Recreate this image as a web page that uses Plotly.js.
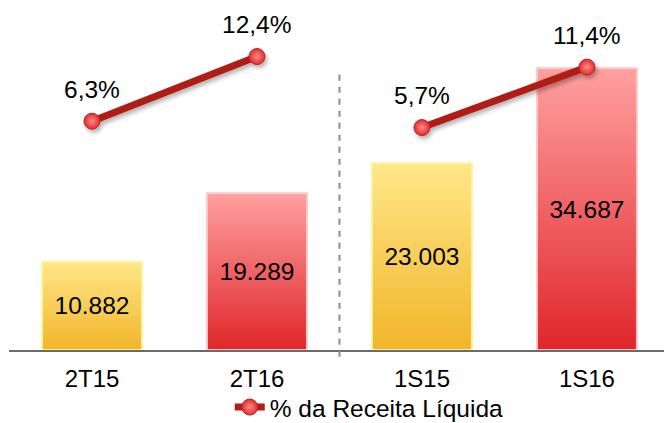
<!DOCTYPE html>
<html>
<head>
<meta charset="utf-8">
<script src="https://cdn.plot.ly/plotly-3.0.1.min.js"></script>
<style>
html,body{margin:0;padding:0;background:#fff;}
#chart{width:664px;height:423px;}
</style>
</head>
<body>
<div id="chart"></div>
<script>
// ---- data ----
var categories = ["2T15", "2T16", "1S15", "1S16"];
var values = [10882, 19289, 23003, 34687];
var pctReceita = [6.3, 12.4, 5.7, 11.4];
var barGroup = ["y", "r", "y", "r"];   // yellow = 2015, red = 2016
var legendName = "% da Receita Líquida";

var FONT = '"Liberation Sans", Arial, sans-serif';

var barTrace = {
  type: "bar",
  x: categories,
  y: values,
  width: 0.606,
  marker: {
    color: barGroup.map(function (g) { return g === "y" ? "#F8CC48" : "#F25A5A"; }),
    line: { width: 0 }
  },
  texttemplate: "%{y:,}",
  textposition: "inside",
  insidetextanchor: "middle",
  textangle: 0,
  textfont: { family: FONT, size: 24.5, color: "#000" },
  showlegend: false,
  hoverinfo: "skip"
};

function lineTrace(i0, i1, show) {
  return {
    type: "scatter",
    mode: "lines+markers",
    x: categories.slice(i0, i1),
    y: pctReceita.slice(i0, i1),
    yaxis: "y2",
    name: legendName,
    legendgroup: "pct",
    showlegend: show,
    line: { color: "#B01E16", width: 7, shape: "spline" },
    marker: {
      size: 16,
      color: "#E22D2D",
      gradient: { type: "radial", color: "#FF8A8A" },
      line: { color: "#C42020", width: 1 }
    },
    hoverinfo: "skip"
  };
}

var annotations = categories.map(function (c, i) {
  return {
    x: c,
    y: pctReceita[i],
    xref: "x",
    yref: "y2",
    yshift: 32,
    showarrow: false,
    text: pctReceita[i].toFixed(1).replace(".", ",") + "%",
    font: { family: FONT, size: 24.5, color: "#000" }
  };
});

var layout = {
  width: 664,
  height: 423,
  margin: { l: 9, r: 0, t: 10, b: 73, autoexpand: false },
  paper_bgcolor: "#fff",
  plot_bgcolor: "#fff",
  separators: ",.",
  font: { family: FONT, size: 24, color: "#000" },
  xaxis: {
    type: "category",
    range: [-0.503, 3.467],
    showline: true,
    linecolor: "#6b6b6b",
    linewidth: 2,
    showgrid: false,
    zeroline: false,
    ticks: "",
    automargin: false,
    ticklabelstandoff: 6,
    tickfont: { family: FONT, size: 24, color: "#000" },
    fixedrange: true
  },
  yaxis: {
    range: [0, 41872],
    visible: false,
    showgrid: false,
    zeroline: false,
    fixedrange: true
  },
  yaxis2: {
    overlaying: "y",
    side: "right",
    range: [-15.28, 16.79],
    visible: false,
    showgrid: false,
    zeroline: false,
    fixedrange: true
  },
  shapes: [{
    type: "line",
    xref: "x",
    yref: "paper",
    x0: 1.5, x1: 1.5,
    y0: -0.02, y1: 0.815,
    line: { color: "#8c8c8c", width: 2, dash: "6px,6px" }
  }],
  annotations: annotations,
  showlegend: true,
  legend: {
    orientation: "h",
    x: 0.55,
    xanchor: "center",
    y: -0.168,
    yanchor: "middle",
    font: { family: FONT, size: 24.5, color: "#000" },
    bgcolor: "rgba(0,0,0,0)",
    itemwidth: 30
  }
};

Plotly.newPlot("chart", [barTrace, lineTrace(0, 2, true), lineTrace(2, 4, false)], layout, { displayModeBar: false, staticPlot: true })
.then(function (gd) {
  var svg = gd.querySelector("svg.main-svg");
  var ns = "http://www.w3.org/2000/svg";
  var defs = svg.querySelector("defs") || svg.insertBefore(document.createElementNS(ns, "defs"), svg.firstChild);
  function grad(id, top, bottom) {
    var g = document.createElementNS(ns, "linearGradient");
    g.setAttribute("id", id);
    g.setAttribute("x1", "0"); g.setAttribute("y1", "0");
    g.setAttribute("x2", "0"); g.setAttribute("y2", "1");
    [[0, top], [1, bottom]].forEach(function (s) {
      var st = document.createElementNS(ns, "stop");
      st.setAttribute("offset", s[0]);
      st.setAttribute("stop-color", s[1]);
      g.appendChild(st);
    });
    defs.appendChild(g);
  }
  grad("gradY", "#FFE788", "#F1B52A");
  grad("gradR", "#FFA0A0", "#E0262A");
  var f = document.createElementNS(ns, "filter");
  f.setAttribute("id", "lineShadow");
  f.setAttribute("x", "-20%"); f.setAttribute("y", "-50%");
  f.setAttribute("width", "140%"); f.setAttribute("height", "200%");
  var ds = document.createElementNS(ns, "feDropShadow");
  ds.setAttribute("dx", "2"); ds.setAttribute("dy", "3");
  ds.setAttribute("stdDeviation", "2");
  ds.setAttribute("flood-color", "#000");
  ds.setAttribute("flood-opacity", "0.3");
  f.appendChild(ds);
  defs.appendChild(f);

  var paths = gd.querySelectorAll(".barlayer .point path");
  paths.forEach(function (p, i) {
    p.style.fill = "url(#" + (barGroup[i] === "y" ? "gradY" : "gradR") + ")";
    p.style.stroke = barGroup[i] === "y" ? "#FFF3A0" : "#FFC8C8";
    p.style.strokeWidth = "2px";
  });
  gd.querySelectorAll(".scatterlayer .trace").forEach(function (t) {
    t.setAttribute("filter", "url(#lineShadow)");
  });
});
</script>
</body>
</html>
